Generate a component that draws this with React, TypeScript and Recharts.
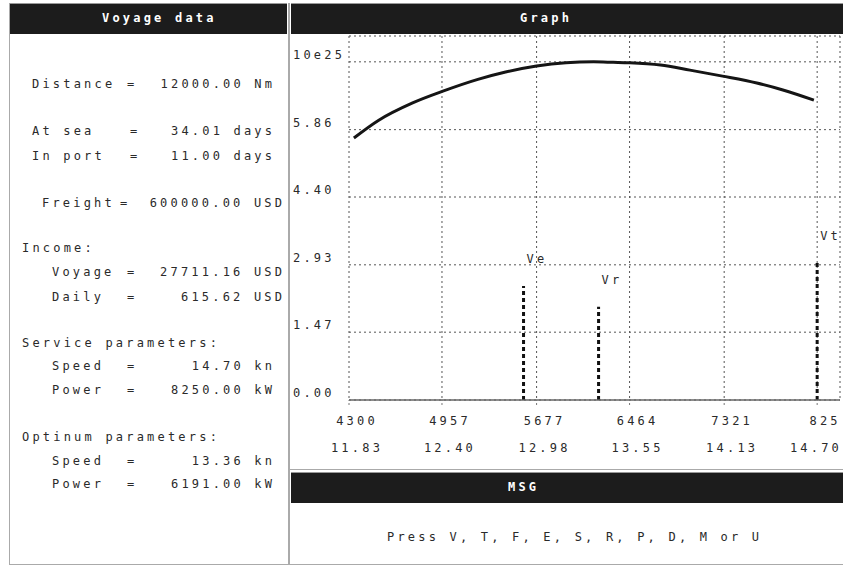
import React from 'react';
import {
  LineChart,
  Line,
  XAxis,
  YAxis,
  CartesianGrid,
  ReferenceLine,
  ReferenceDot,
} from 'recharts';

// Curve: income vs speed (chart units)
const curveSpeed = [11.86, 12.01, 12.22, 12.41, 12.62, 12.79, 12.98, 13.16, 13.33, 13.45, 13.55, 13.74, 13.92, 14.12, 14.33, 14.49, 14.68];
const curveValue = [5.68, 6.06, 6.44, 6.7, 6.95, 7.11, 7.24, 7.31, 7.33, 7.32, 7.31, 7.26, 7.15, 7.02, 6.87, 6.72, 6.5];

// Speed markers
const markerNames = ['Ve', 'Vr', 'Vt'];
const markerSpeed = [12.9, 13.36, 14.7];
const markerHeight = [2.47, 2.02, 2.97];

// Axis ticks
const speedTicks = [11.83, 12.4, 12.98, 13.55, 14.13, 14.7];
const speedLabels = ['11.83', '12.40', '12.98', '13.55', '14.13', '14.70'];
const powerLabels = ['4300', '4957', '5677', '6464', '7321', '825'];
const yTicks = [0, 1.47, 2.93, 4.4, 5.86, 7.33];
const yLabels = ['0.00', '1.47', '2.93', '4.40', '5.86', '10e25'];

// Left panel rows
const voyageRows = [
  { label: 'Distance', value: '12000.00 Nm', lx: 32, ex: 127, vr: 272, y: 84 },
  { label: 'At sea', value: '34.01 days', lx: 32, ex: 130, vr: 272, y: 131 },
  { label: 'In port', value: '11.00 days', lx: 32, ex: 130, vr: 272, y: 156 },
  { label: 'Freight', value: '600000.00 USD', lx: 42, ex: 120, vr: 282, y: 203 },
  { label: 'Voyage', value: '27711.16 USD', lx: 52, ex: 127, vr: 282, y: 272 },
  { label: 'Daily', value: '615.62 USD', lx: 52, ex: 127, vr: 282, y: 297 },
  { label: 'Speed', value: '14.70 kn', lx: 52, ex: 127, vr: 272, y: 366 },
  { label: 'Power', value: '8250.00 kW', lx: 52, ex: 127, vr: 272, y: 390 },
  { label: 'Speed', value: '13.36 kn', lx: 52, ex: 127, vr: 272, y: 461 },
  { label: 'Power', value: '6191.00 kW', lx: 52, ex: 127, vr: 272, y: 484 },
];
const sectionTitles = [
  { text: 'Income:', y: 248 },
  { text: 'Service parameters:', y: 343 },
  { text: 'Optinum parameters:', y: 437 },
];

const curveData = curveSpeed.map((s, i) => ({ speed: s, value: curveValue[i] }));

const FONT = '"DejaVu Sans Mono", "Liberation Mono", monospace';
const SPACING = 3.2;
const TEXT = '#2a2a2a';
const CHART_W = 553;

const txt: React.CSSProperties = {
  position: 'absolute',
  fontFamily: FONT,
  fontSize: 12,
  letterSpacing: SPACING,
  lineHeight: '16px',
  color: TEXT,
  whiteSpace: 'pre',
};

function XTick(props: any) {
  const { x, y, payload } = props;
  const i = speedTicks.indexOf(payload.value);
  const last = i === speedTicks.length - 1;
  // last speed label sits against the right edge, as in the original screen
  const tx = last ? CHART_W - 1 : x + 8;
  const anchor = last ? 'end' : 'middle';
  return (
    <g fontFamily={FONT} fontSize={12} fill={TEXT} letterSpacing={SPACING}>
      <text x={x + 8} y={y + 18} textAnchor="middle">{powerLabels[i]}</text>
      <text x={tx} y={y + 45} textAnchor={anchor}>{speedLabels[i]}</text>
    </g>
  );
}

function YTick(props: any) {
  const { y, payload } = props;
  const i = yTicks.indexOf(payload.value);
  return (
    <text x={3} y={y - 3} fontFamily={FONT} fontSize={12} fill={TEXT} letterSpacing={SPACING}>
      {yLabels[i]}
    </text>
  );
}

function Header({ left, width, top, text, textLeft }: any) {
  return (
    <div
      style={{
        position: 'absolute',
        left,
        top,
        width,
        height: 30,
        background: '#1c1c1c',
        borderTop: '1px solid #999',
      }}
    >
      <div
        style={{
          ...txt,
          color: '#fff',
          fontWeight: 'bold',
          left: textLeft - left,
          top: 6,
        }}
      >
        {text}
      </div>
    </div>
  );
}

export default function App() {
  return (
    <div
      style={{
        position: 'absolute',
        left: 0,
        top: 0,
        width: 843,
        height: 566,
        background: '#fff',
        overflow: 'hidden',
      }}
    >
      {/* panel borders */}
      <div style={{ position: 'absolute', left: 9, top: 3, width: 278, height: 561, border: '1px solid #aaa', borderTop: 'none' }} />
      <div style={{ position: 'absolute', left: 289, top: 3, width: 1, height: 562, background: '#aaa' }} />
      <div style={{ position: 'absolute', left: 290, top: 469, width: 553, height: 1, background: '#aaa' }} />
      <div style={{ position: 'absolute', left: 290, top: 564, width: 553, height: 1, background: '#aaa' }} />

      <Header left={10} width={277} top={3} text="Voyage data" textLeft={102} />
      <Header left={291} width={552} top={3} text="Graph" textLeft={520} />
      <Header left={291} width={552} top={472} text="MSG" textLeft={508} />

      {/* Voyage data */}
      {voyageRows.map((r, i) => (
        <React.Fragment key={i}>
          <div style={{ ...txt, left: r.lx, top: r.y - 8 }}>{r.label}</div>
          <div style={{ ...txt, left: r.ex, top: r.y - 8 }}>=</div>
          <div style={{ ...txt, right: 843 - r.vr - SPACING, top: r.y - 8 }}>{r.value}</div>
        </React.Fragment>
      ))}
      {sectionTitles.map((s, i) => (
        <div key={i} style={{ ...txt, left: 22, top: s.y - 8 }}>{s.text}</div>
      ))}

      {/* Graph */}
      <div style={{ position: 'absolute', left: 290, top: 34 }}>
        <LineChart
          width={CHART_W}
          height={436}
          data={curveData}
          margin={{ top: 2, right: 3, bottom: 0, left: 0 }}
        >
          <CartesianGrid stroke="#555" strokeDasharray="2 3" />
          <XAxis
            dataKey="speed"
            type="number"
            domain={[11.83, 14.84]}
            ticks={speedTicks}
            height={70}
            tick={<XTick />}
            tickSize={5}
            tickLine={{ stroke: '#777', strokeDasharray: '2 2' }}
            axisLine={{ stroke: '#666', strokeWidth: 1.5 }}
            interval={0}
          />
          <YAxis
            type="number"
            domain={[0, 7.89]}
            ticks={yTicks}
            width={59}
            tick={<YTick />}
            tickLine={false}
            axisLine={false}
            interval={0}
          />
          {markerNames.map((n, i) => (
            <ReferenceLine
              key={n}
              segment={[
                { x: markerSpeed[i], y: 0 },
                { x: markerSpeed[i], y: markerHeight[i] },
              ]}
              stroke="#111"
              strokeWidth={3}
              strokeDasharray="4 3"
            />
          ))}
          {markerNames.map((n, i) => (
            <ReferenceDot
              key={'l' + n}
              x={markerSpeed[i]}
              y={markerHeight[i]}
              r={0}
              shape={(p: any) => (
                <text
                  x={p.cx + 3}
                  y={p.cy - 23}
                  fontFamily={FONT}
                  fontSize={12}
                  fill={TEXT}
                  letterSpacing={SPACING}
                >
                  {n}
                </text>
              )}
            />
          ))}
          <Line
            type="monotone"
            dataKey="value"
            stroke="#151515"
            strokeWidth={3}
            dot={false}
            isAnimationActive={false}
          />
        </LineChart>
      </div>

      <div style={{ ...txt, left: 387, top: 529 }}>Press V, T, F, E, S, R, P, D, M or U</div>
    </div>
  );
}
